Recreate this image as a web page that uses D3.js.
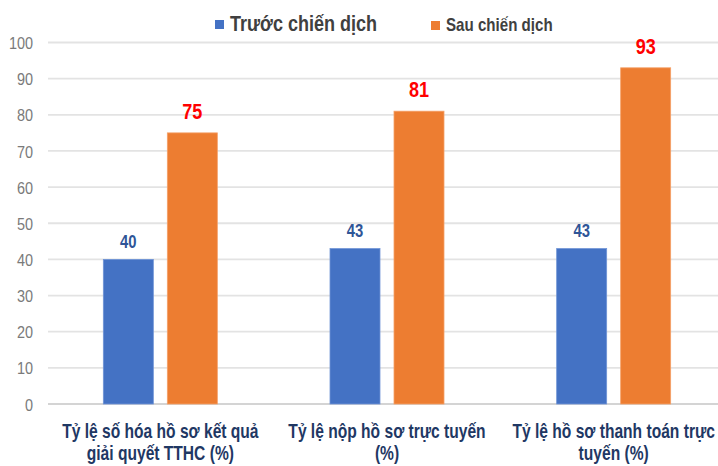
<!DOCTYPE html>
<html>
<head>
<meta charset="utf-8">
<script src="https://cdn.jsdelivr.net/npm/d3@7"></script>
<style>
html,body{margin:0;padding:0;background:#fff;}
svg{display:block;}
</style>
</head>
<body>
<svg id="chart" width="718" height="466"></svg>
<script>
const categories = [
  ["Tỷ lệ số hóa hồ sơ kết quả", "giải quyết TTHC (%)"],
  ["Tỷ lệ nộp hồ sơ trực tuyến", "(%)"],
  ["Tỷ lệ hồ sơ thanh toán trực", "tuyến (%)"]
];
const seriesNames = ["Trước chiến dịch", "Sau chiến dịch"];
const before = [40, 43, 43];
const after = [75, 81, 93];
const yTicks = [0, 10, 20, 30, 40, 50, 60, 70, 80, 90, 100];
const colors = ["#4472c4", "#ed7d31"];

const svg = d3.select("#chart");
const FONT = "'Liberation Sans', Arial, sans-serif";

// text drawn with horizontal compression (condensed look)
function ctext(parent, x, y, str, size, sx, opts) {
  const g = parent.append("g").attr("transform", `translate(${x},${y}) scale(${sx},1)`);
  const t = g.append("text").attr("x", 0).attr("y", 0)
    .attr("font-family", FONT).attr("font-size", size)
    .attr("font-weight", opts.weight || "normal")
    .attr("fill", opts.fill || "#000")
    .attr("text-anchor", opts.anchor || "start")
    .text(str);
  return t;
}

const y = d3.scaleLinear().domain([0, 100]).range([404, 42.5]);
const x0 = d3.scaleBand().domain(d3.range(categories.length)).range([47, 727]);
const x1 = d3.scaleBand().domain(d3.range(seriesNames.length)).range([-57, 57]).paddingInner(0.21875);

// gridlines
svg.append("g").selectAll("line").data(yTicks).join("line")
  .attr("x1", 48).attr("x2", 718)
  .attr("y1", d => y(d)).attr("y2", d => y(d))
  .attr("stroke", d => d === 0 ? "#d4d4d4" : "#e3e3e3").attr("stroke-width", 1.8);

// y tick labels, positioned via axis scale
const yAxis = d3.axisLeft(y).tickValues(yTicks).tickSize(0).tickPadding(0);
const ya = svg.append("g").attr("transform", "translate(33,0)").call(yAxis);
ya.select(".domain").remove();
ya.selectAll("text")
  .attr("fill", "#7a7a7a").attr("font-family", FONT).attr("font-size", 17)
  .attr("dy", "0.36em")
  .attr("transform", "scale(0.85,1)");

const data = categories.map((c, i) => ({i, vals: [before[i], after[i]]}));

const groups = svg.append("g").selectAll("g").data(data).join("g")
  .attr("transform", d => `translate(${x0(d.i) + x0.bandwidth() / 2},0)`);

groups.selectAll("rect").data(d => d.vals.map((v, s) => ({v, s}))).join("rect")
  .attr("x", d => x1(d.s)).attr("width", x1.bandwidth())
  .attr("y", d => y(d.v)).attr("height", d => y(0) - y(d.v))
  .attr("fill", d => colors[d.s])
  .attr("stroke", d => d.s === 0 ? "#7094d6" : "#f4a068").attr("stroke-width", 0.8);

// value labels
groups.each(function(d) {
  const g = d3.select(this);
  d.vals.forEach((v, s) => {
    const cx = x1(s) + x1.bandwidth() / 2;
    if (s === 0) {
      ctext(g, cx, y(v) - 11.5, v, 19, 0.78, {weight: "bold", fill: "#2f5597", anchor: "middle"});
    } else {
      ctext(g, cx, y(v) - 14, v, 21.5, 0.84, {weight: "bold", fill: "#ff0000", anchor: "middle"});
    }
  });
  // category labels
  categories[d.i].forEach((line, k) => {
    ctext(g, 0, 437.5 + k * 22.5, line, 19.5, 0.8, {weight: "bold", fill: "#1f3864", anchor: "middle"});
  });
});

// legend
const leg = svg.append("g");
leg.append("rect").attr("x", 215).attr("y", 20).attr("width", 9).attr("height", 9).attr("fill", colors[0]);
ctext(leg, 230, 31, seriesNames[0], 22, 0.82, {weight: "bold", fill: "#404040"});
leg.append("rect").attr("x", 431).attr("y", 21).attr("width", 9).attr("height", 9).attr("fill", colors[1]);
ctext(leg, 446, 31, seriesNames[1], 18, 0.84, {weight: "bold", fill: "#404040"});
</script>
</body>
</html>
